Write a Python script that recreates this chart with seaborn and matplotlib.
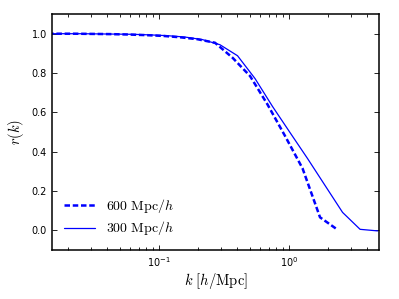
# r(k) cross-correlation for two box sizes
import pandas as pd
import matplotlib
matplotlib.use('Agg')
import matplotlib.pyplot as plt
import seaborn as sns

# ── DATA ─────────────────────────────────────────────────────────────────────

k_600 = [0.01216, 0.01657, 0.02259, 0.03079, 0.04198, 0.05724, 0.07805, 0.1064,
         0.1450, 0.1978, 0.2697, 0.3677, 0.5012, 0.6833, 0.9316, 1.270, 1.731, 2.360]
r_600 = [1.0, 1.0, 1.0, 0.999, 0.998, 0.996, 0.993, 0.989,
         0.982, 0.972, 0.954, 0.878, 0.785, 0.64, 0.48, 0.315, 0.066, 0.003]

k_300 = [0.01327, 0.01811, 0.02468, 0.03365, 0.04589, 0.06252, 0.0853, 0.1162,
         0.1585, 0.2162, 0.2944, 0.4018, 0.5476, 0.7464, 1.018, 1.388, 1.892,
         2.580, 3.517, 4.794]
r_300 = [1.0, 1.0, 1.0, 0.999, 0.998, 0.997, 0.994, 0.99,
         0.983, 0.97, 0.944, 0.888, 0.772, 0.63, 0.497, 0.365, 0.228,
         0.091, 0.005, -0.003]

labels = [r'$600\ \mathrm{Mpc}/h$', r'$300\ \mathrm{Mpc}/h$']

df = pd.concat([
    pd.DataFrame({'k': k_600, 'r': r_600, 'box': labels[0]}),
    pd.DataFrame({'k': k_300, 'r': r_300, 'box': labels[1]}),
], ignore_index=True)

# ── STYLE ────────────────────────────────────────────────────────────────────

sns.set_style('ticks')
plt.rcParams['font.family'] = ['DejaVu Sans']
plt.rcParams['mathtext.fontset'] = 'dejavusans'   # tick labels (10^x) stay sans
plt.rcParams['xtick.direction'] = 'in'
plt.rcParams['ytick.direction'] = 'in'
plt.rcParams['axes.edgecolor'] = 'black'
plt.rcParams['xtick.color'] = 'black'
plt.rcParams['ytick.color'] = 'black'
plt.rcParams['text.color'] = 'black'
plt.rcParams['axes.labelcolor'] = 'black'

fig = plt.figure(figsize=(3.99, 2.99), dpi=100)
ax = fig.add_axes([0.130, 0.164, 0.820, 0.789])

sns.lineplot(data=df, x='k', y='r', hue='box', style='box', hue_order=labels,
             style_order=labels, palette={labels[0]: 'blue', labels[1]: 'blue'},
             dashes={labels[0]: (2.2, 1.1), labels[1]: ''},
             size='box', sizes={labels[0]: 1.8, labels[1]: 0.9},
             sort=False, estimator=None, ax=ax, legend=False)

ax.set_xscale('log')
ax.set_xlim(0.01503, 4.92)
ax.set_ylim(-0.1, 1.1)
ax.set_yticks([0.0, 0.2, 0.4, 0.6, 0.8, 1.0])

for side in ['top', 'right', 'bottom', 'left']:
    ax.spines[side].set_visible(True)
    ax.spines[side].set_linewidth(1.1)
ax.tick_params(which='both', top=True, right=True, labelsize=7, width=0.6)
ax.tick_params(which='major', length=3.5)
ax.tick_params(which='minor', length=2)

# axis labels and legend in Computer Modern, like the original
ax.set_xlabel(r'$k\ [h/\mathrm{Mpc}]$', fontsize=10.5, labelpad=2, math_fontfamily='cm')
ax.set_ylabel(r'$r(k)$', fontsize=10.5, labelpad=4, math_fontfamily='cm')

handles = ax.lines[:2]
leg = ax.legend(handles, labels, loc='lower left', frameon=False, fontsize=10,
                handlelength=2.2, handletextpad=0.8, borderaxespad=0.5,
                labelspacing=0.3)
for t in leg.get_texts():
    t.set_math_fontfamily('cm')

plt.savefig('out.png', dpi=100)
